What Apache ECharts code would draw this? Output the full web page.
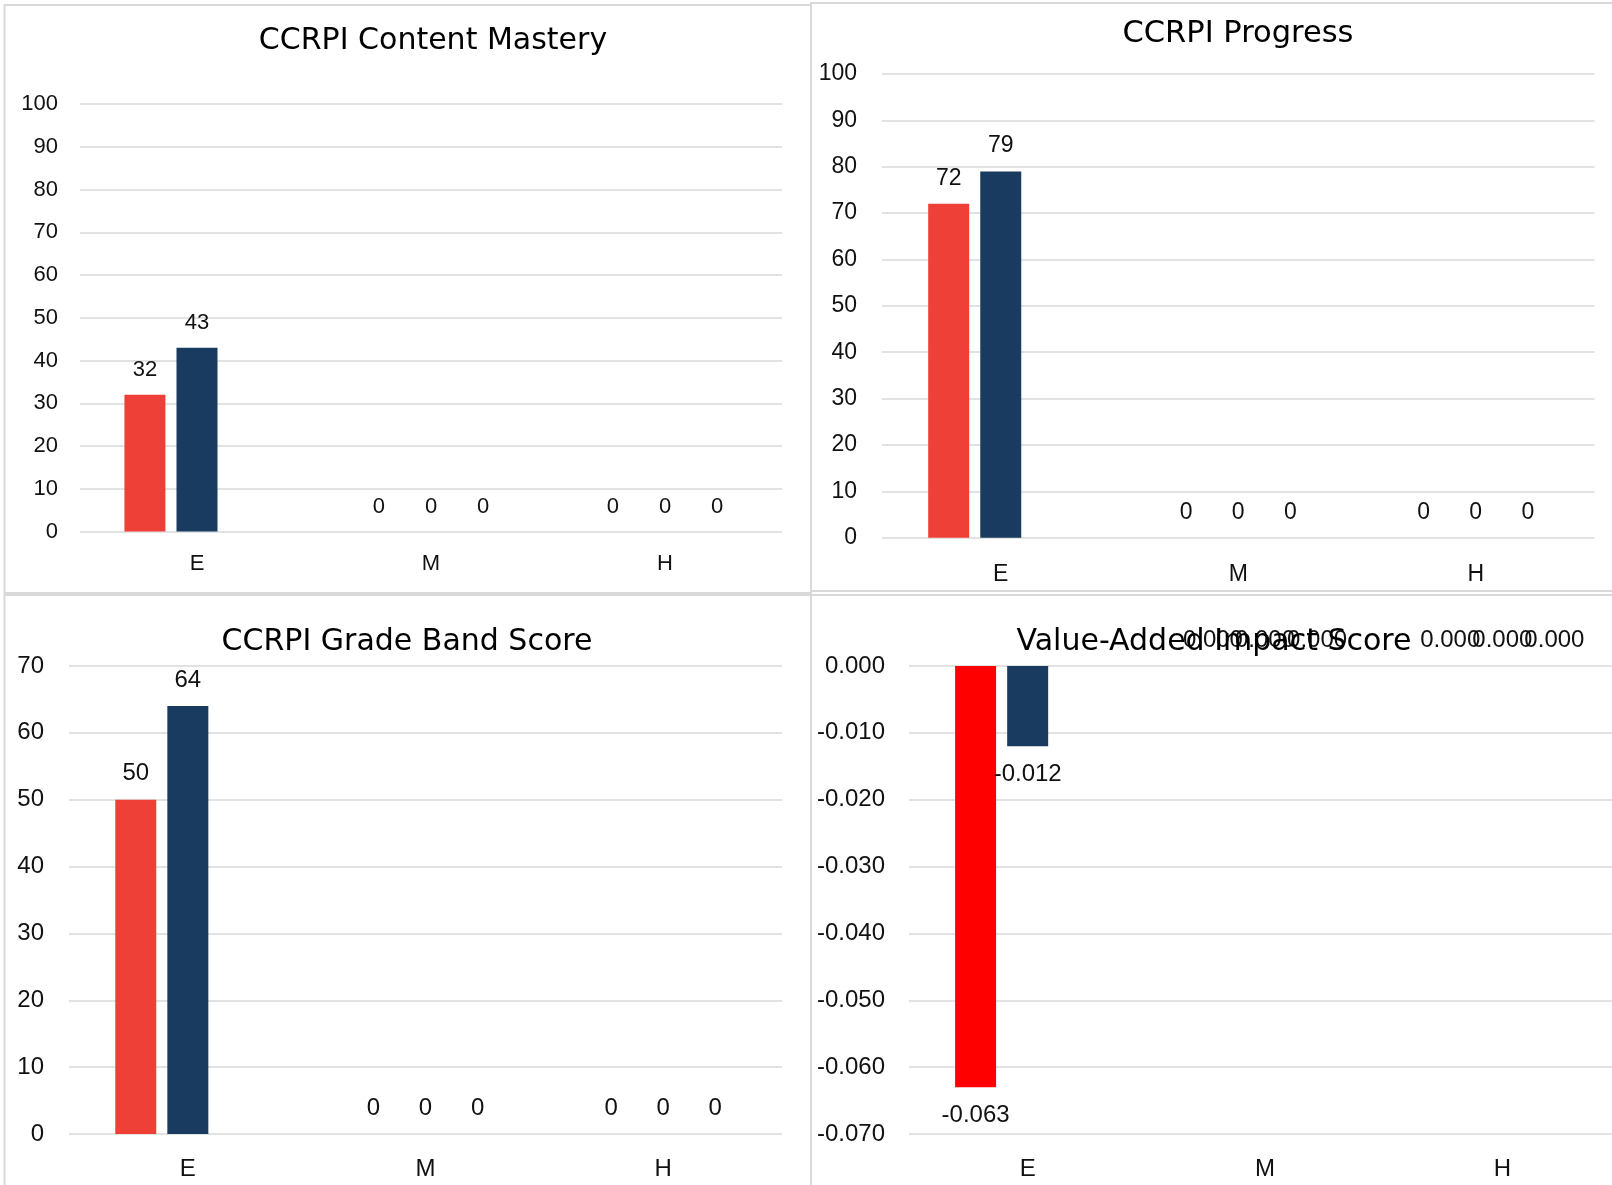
<!DOCTYPE html>
<html>
<head>
<meta charset="utf-8">
<script src="https://cdn.jsdelivr.net/npm/echarts@6/dist/echarts.min.js"></script>
<style>
  html, body { margin: 0; padding: 0; background: #ffffff; }
  #main { width: 1612px; height: 1185px; }
</style>
</head>
<body>
<div id="main"></div>
<script>
// ---- data ----
const categories = ['E', 'M', 'H'];

const masteryRed = [32, 0, 0];
const masteryNavy = [43, 0, 0];
const masteryThird = [null, 0, 0];

const progressRed = [72, 0, 0];
const progressNavy = [79, 0, 0];
const progressThird = [null, 0, 0];

const gradeBandRed = [50, 0, 0];
const gradeBandNavy = [64, 0, 0];
const gradeBandThird = [null, 0, 0];

const valueAddedRed = [-0.063, 0, 0];
const valueAddedNavy = [-0.012, 0, 0];
const valueAddedThird = [null, 0, 0];

const titles = ['CCRPI Content Mastery', 'CCRPI Progress', 'CCRPI Grade Band Score', 'Value-Added Impact Score'];

// ---- layout & styling for the four panels ----
const W = 1612, H = 1185;
const TEXT = '#111111';
const GRID_LINE = '#d9d9d9';
const LABEL_FONT = '"Liberation Sans", Arial, sans-serif';
const TITLE_FONT = '"DejaVu Sans", "Liberation Sans", sans-serif';

const panels = [
  {
    series: [masteryRed, masteryNavy, masteryThird],
    colors: ['#EE4037', '#1A3B60', '#A5A5A5'],
    grid: { left: 80, right: W - 782, top: 104, bottom: H - 531.5 },
    yAxis: { min: 0, max: 100, interval: 10 },
    digits: 0, font: 22, yMargin: 22, xMargin: 21,
    title: { x: 433, y: 41, size: 30 },
    box: { x: 4.5, y: 5, w: 806.5, h: 588 }
  },
  {
    series: [progressRed, progressNavy, progressThird],
    colors: ['#EE4037', '#1A3B60', '#A5A5A5'],
    grid: { left: 882, right: 17.5, top: 74, bottom: H - 537.7 },
    yAxis: { min: 0, max: 100, interval: 10 },
    digits: 0, font: 23, yMargin: 25, xMargin: 25,
    title: { x: 1238, y: 34, size: 30.5 },
    box: { x: 811, y: 3, w: 810, h: 588 }
  },
  {
    series: [gradeBandRed, gradeBandNavy, gradeBandThird],
    colors: ['#EE4037', '#1A3B60', '#A5A5A5'],
    grid: { left: 69, right: W - 782, top: 666, bottom: H - 1134 },
    yAxis: { min: 0, max: 70, interval: 10 },
    digits: 0, font: 24, yMargin: 25, xMargin: 23,
    title: { x: 407, y: 642, size: 30 },
    box: { x: 4.5, y: 595, w: 806.5, h: 600 }
  },
  {
    series: [valueAddedRed, valueAddedNavy, valueAddedThird],
    colors: ['#FF0000', '#1A3B60', '#A5A5A5'],
    grid: { left: 909, right: -9, top: 666, bottom: H - 1134 },
    yAxis: { min: -0.07, max: 0, interval: 0.01 },
    digits: 3, font: 24, yMargin: 24, xMargin: 23,
    title: { x: 1214, y: 642, size: 30 },
    box: { x: 811, y: 595, w: 810, h: 600 }
  }
];

// Labels sit beyond the bar end: above for zero/positive bars, below for negative ones.
function barItems(values) {
  return values.map(v => v == null ? '-' : {
    value: v,
    label: v < 0 ? { position: 'bottom', distance: 16 } : { position: 'top', distance: 14 }
  });
}

const grids = [], xAxes = [], yAxes = [], series = [], graphics = [];

panels.forEach((p, i) => {
  grids.push(Object.assign({ containLabel: false, outerBoundsMode: 'none' }, p.grid));

  xAxes.push({
    type: 'category', gridIndex: i, data: categories,
    axisLine: { show: false, onZero: false }, axisTick: { show: false },
    splitLine: { show: false },
    axisLabel: { color: TEXT, fontSize: p.font, fontFamily: LABEL_FONT, margin: p.xMargin }
  });

  yAxes.push({
    type: 'value', gridIndex: i,
    min: p.yAxis.min, max: p.yAxis.max, interval: p.yAxis.interval,
    axisLine: { show: false }, axisTick: { show: false },
    splitLine: { show: true, lineStyle: { color: GRID_LINE, width: 1.5 } },
    axisLabel: {
      color: TEXT, fontSize: p.font, fontFamily: LABEL_FONT, margin: p.yMargin,
      formatter: v => v.toFixed(p.digits)
    }
  });

  p.series.forEach((vals, k) => {
    series.push({
      type: 'bar', name: 'P' + i + 'S' + k,
      xAxisIndex: i, yAxisIndex: i,
      data: barItems(vals),
      barWidth: 41, barGap: '27%',
      itemStyle: { color: p.colors[k] },
      label: {
        show: true, color: TEXT,
        fontSize: p.font, fontFamily: LABEL_FONT,
        formatter: prm => Number(prm.value).toFixed(p.digits)
      }
    });
  });

  graphics.push({
    type: 'rect', z: -1, silent: true,
    shape: { x: p.box.x, y: p.box.y, width: p.box.w, height: p.box.h },
    style: { fill: 'none', stroke: GRID_LINE, lineWidth: 2 }
  });
  graphics.push({
    type: 'text', silent: true, x: p.title.x, y: p.title.y, z: 10,
    style: {
      text: titles[i], fill: '#000000', fontSize: p.title.size, fontFamily: TITLE_FONT,
      align: 'center', verticalAlign: 'middle'
    }
  });
});

const chart = echarts.init(document.getElementById('main'), null, { renderer: 'canvas', width: W, height: H });
chart.setOption({
  animation: false,
  backgroundColor: '#ffffff',
  grid: grids,
  xAxis: xAxes,
  yAxis: yAxes,
  series: series,
  graphic: graphics
});
</script>
</body>
</html>
